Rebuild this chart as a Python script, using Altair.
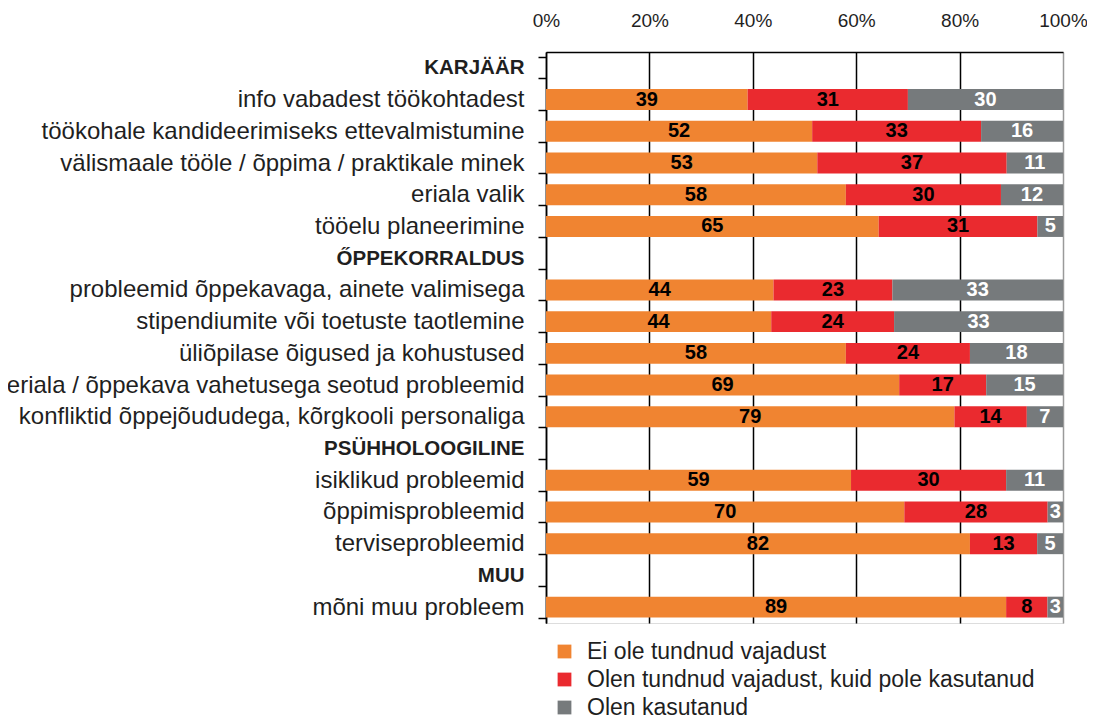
import altair as alt
import pandas as pd

categories = [
    "KARJÄÄR",
    "info vabadest töökohtadest",
    "töökohale kandideerimiseks ettevalmistumine",
    "välismaale tööle / õppima / praktikale minek",
    "eriala valik",
    "tööelu planeerimine",
    "ŐPPEKORRALDUS",
    "probleemid õppekavaga, ainete valimisega",
    "stipendiumite või toetuste taotlemine",
    "üliõpilase õigused ja kohustused",
    "eriala / õppekava vahetusega seotud probleemid",
    "konfliktid õppejõududega, kõrgkooli personaliga",
    "PSÜHHOLOOGILINE",
    "isiklikud probleemid",
    "õppimisprobleemid",
    "terviseprobleemid",
    "MUU",
    "mõni muu probleem",
]
headers = ["KARJÄÄR", "ŐPPEKORRALDUS", "PSÜHHOLOOGILINE", "MUU"]
series = [
    "Ei ole tundnud vajadust",
    "Olen tundnud vajadust, kuid pole kasutanud",
    "Olen kasutanud",
]
ei_ole = [None, 39, 52, 53, 58, 65, None, 44, 44, 58, 69, 79, None, 59, 70, 82, None, 89]
tundnud = [None, 31, 33, 37, 30, 31, None, 23, 24, 24, 17, 14, None, 30, 28, 13, None, 8]
kasutanud = [None, 30, 16, 11, 12, 5, None, 33, 33, 18, 15, 7, None, 11, 3, 5, None, 3]
colors = ["#F08431", "#EA2A2F", "#767A7C"]

rows = []
for i, cat in enumerate(categories):
    for k, vals in enumerate([ei_ole, tundnud, kasutanud]):
        if vals[i] is not None:
            rows.append({"category": cat, "series": series[k], "order": k, "value": vals[i]})
df = pd.DataFrame(rows)

FONT = "Liberation Sans"
hdr_test = "indexof(" + str(headers) + ", datum.value) >= 0"

base = alt.Chart(df).transform_stack(
    stack="value",
    groupby=["category"],
    as_=["x0", "x1"],
    offset="normalize",
    sort=[alt.SortField("order", order="ascending")],
).transform_calculate(mid="(datum.x0 + datum.x1) / 2")

yenc = alt.Y(
    "category:N",
    scale=alt.Scale(domain=categories, paddingInner=0.34, paddingOuter=0.17),
    axis=alt.Axis(
        title=None,
        tickBand="extent",
        domainColor="black",
        domainWidth=1.5,
        tickColor="black",
        tickWidth=1.5,
        tickSize=8,
        labelPadding=14,
        labelFont=FONT,
        labelColor="#1f1f1f",
        labelLimit=700,
        labelFontSize={"condition": {"test": hdr_test, "value": 20.5}, "value": 24},
        labelFontWeight={"condition": {"test": hdr_test, "value": "bold"}, "value": "normal"},
    ),
)

bars = base.mark_bar().encode(
    y=yenc,
    x=alt.X(
        "x0:Q",
        scale=alt.Scale(domain=[0, 1]),
        axis=alt.Axis(
            orient="top",
            format="%",
            values=[0, 0.2, 0.4, 0.6, 0.8, 1.0],
            title=None,
            grid=True,
            gridColor={"condition": {"test": "datum.value == 1", "value": "#9a9a9a"}, "value": "black"},
            gridWidth=1.5,
            ticks=False,
            labelFlush=False,
            domainColor="black",
            domainWidth=1.5,
            labelPadding=22,
            labelFont=FONT,
            labelFontSize=19,
            labelColor="#1f1f1f",
        ),
    ),
    x2="x1:Q",
    color=alt.Color(
        "series:N",
        scale=alt.Scale(domain=series, range=colors),
        legend=alt.Legend(
            title=None,
            orient="none",
            legendX=7,
            legendY=588,
            direction="vertical",
            symbolType="square",
            symbolSize=190,
            symbolStrokeWidth=0,
            labelFont=FONT,
            labelFontSize=23,
            labelColor="#1f1f1f",
            labelOffset=11,
            rowPadding=4,
            labelLimit=600,
            padding=0,
        ),
    ),
)

text = base.mark_text(font=FONT, fontWeight="bold", fontSize=20).encode(
    y=alt.Y("category:N", scale=alt.Scale(domain=categories)),
    x=alt.X("mid:Q"),
    text=alt.Text("value:Q"),
    color=alt.condition(
        alt.datum.series == series[2], alt.value("white"), alt.value("black")
    ),
)

chart = (
    alt.layer(bars, text)
    .properties(
        width=517,
        height=571,
        autosize=alt.AutoSizeParams(type="none"),
        padding={"left": 538, "top": 44, "right": 24, "bottom": 97},
    )
    .configure_view(stroke="#9a9a9a", strokeWidth=1.5)
    .configure(background="white")
)

chart.save("out.html", embed_options={"renderer": "svg", "actions": False})
